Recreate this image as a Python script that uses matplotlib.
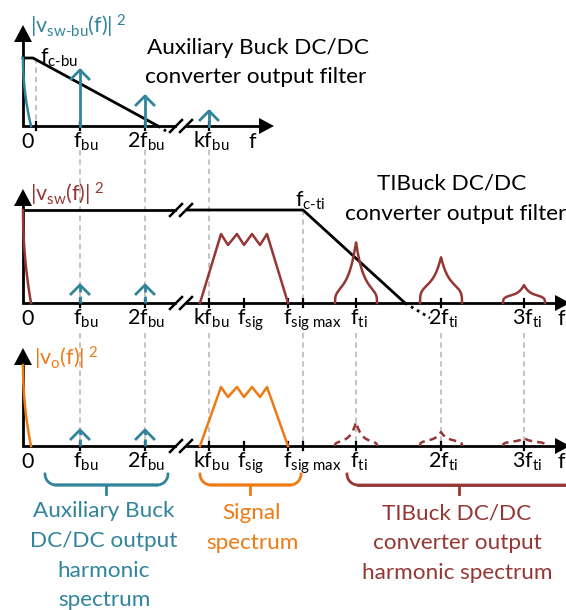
import numpy as np
import matplotlib.pyplot as plt

plt.rcParams["font.family"] = ["Lato", "DejaVu Sans"]
plt.rcParams["mathtext.fontset"] = "custom"
plt.rcParams["mathtext.rm"] = "Lato"
plt.rcParams["mathtext.it"] = "Lato:italic"
plt.rcParams["mathtext.bf"] = "Lato:bold"

TEAL = "#31849B"
RED = "#953735"
ORANGE = "#EE7A14"
GREY = "#BFBFBF"

# drawing units are pixels of the 566 x 610 picture
x_zero = 23
x_fcbu = 36
x_bu = [80, 145, 209]          # f_bu, 2f_bu, kf_bu
x_sig = 244
x_sigmax = 288
x_cti = 303
x_ti = [356, 441, 524]         # f_ti, 2f_ti, 3f_ti
x_break = 181

axis_y = [126, 303, 446]
axis_top = [25, 189, 348]
axis_end = [274, 570, 570]

# spectra (heights above each axis)
dc_height = [68, 93, 81]
bu_height_p1 = [56, 30, 15]
bu_height_p2 = [18, 18]
bu_height_p3 = [16, 16]
ti_height_p2 = [61, 46, 18]
ti_shoulder_p2 = [10, 14, 7]
ti_height_p3 = [24, 14, 8]
ti_shoulder_p3 = [4, 5, 4]

signal_x = [200, 221, 228, 237, 244, 252, 260, 267, 288]
signal_p2 = [0, 69, 58, 69, 58, 69, 58, 69, 0]
signal_p3 = [0, 59, 49, 59, 49, 59, 49, 59, 0]

# filter responses: corner point and zero crossing
filter_bu = [(x_zero, 58), (33, 58), (158, 126), (166, 131)]
filter_ti = [(x_zero, 210), (x_cti, 210), (405, 303), (430, 318)]

fig = plt.figure(figsize=(5.66, 6.10), dpi=100)
ax = fig.add_axes([0, 0, 1, 1])
ax.set_xlim(0, 566)
ax.set_ylim(610, 0)
ax.axis("off")

LW = 2.0
FS = 15.5     # axis labels
FT = 16.2     # titles and captions


def f_lab(base, sub):
    return r"$\mathrm{%s}_{\text{%s}}$" % (base, sub)


def draw_axes(i):
    y0 = axis_y[i]
    ax.plot([x_zero, x_zero], [y0, axis_top[i] + 12], color="k", lw=LW, solid_capstyle="butt")
    ax.fill([x_zero - 9, x_zero + 9, x_zero], [axis_top[i] + 17, axis_top[i] + 17, axis_top[i]],
            color="k", lw=0)
    ax.plot([x_zero, x_break - 6], [y0, y0], color="k", lw=LW)
    ax.plot([x_break + 6, axis_end[i] - 10], [y0, y0], color="k", lw=LW)
    ax.fill([axis_end[i] - 15, axis_end[i] - 15, axis_end[i]], [y0 - 8, y0 + 8, y0],
            color="k", lw=0)
    draw_break(y0)


def draw_break(y0):
    for dx in (-5, 5):
        ax.plot([x_break + dx - 6, x_break + dx + 6], [y0 + 6, y0 - 6], color="k", lw=1.8)


def ticks(xs, y0):
    for x in xs:
        ax.plot([x, x], [y0 - 4, y0 + 4], color="k", lw=1.6)


def vline(x, y1, y2):
    ax.plot([x, x], [y1, y2], color=GREY, lw=1.3, ls=(0, (3, 2.2)), zorder=0)


def dc_curve(i, color):
    t = np.linspace(0, 1, 40)
    y = axis_y[i] - dc_height[i] * (1 - t)
    x = x_zero + 8 * t ** 2
    ax.plot(x, y, color=color, lw=1.8, zorder=3)


def chevron(x, y0, h, dashed=False):
    ax.plot([x, x], [y0, y0 - h], color=TEAL, lw=2.0,
            ls=(0, (2.5, 1.5)) if dashed else "-", zorder=3)
    ax.plot([x - 9, x, x + 9], [y0 - h + 9, y0 - h, y0 - h + 9], color=TEAL, lw=2.0, zorder=3)


def bump(x, y0, h, p, dashed=False):
    dx = np.linspace(-21, 21, 300)
    w = 7.5 if h > 30 else 5.5
    core = p + (h - p) * np.exp(-np.abs(dx) / w)
    env = np.clip(1 - (np.abs(dx) / 21) ** 4, 0, 1) ** 0.3
    ax.plot(x + dx, y0 - core * env, color=RED, lw=1.8,
            ls=(0, (3, 2)) if dashed else "-", zorder=3)


def xlabels(i, extra):
    yb = axis_y[i] + 22
    labels = [(28, "0"), (86, f_lab("f", "bu")), (146, f_lab("2f", "bu")),
              (211, f_lab("kf", "bu"))] + extra
    for x, s in labels:
        ax.text(x, yb, s, fontsize=FS, ha="center", va="baseline")


def brace(x1, x2, xm, y_top, color):
    y_bot = y_top + 13
    t = np.linspace(0, np.pi / 2, 20)
    r = 11
    xl = x1 + r - r * np.cos(t)
    yl = y_top + r * np.sin(t)
    ax.plot(np.r_[xl, x2 - r], np.r_[yl, y_bot - 2], color=color, lw=2.0)
    xr = x2 - r + r * np.cos(t)
    ax.plot(np.r_[x1 + r, xr[::-1]], np.r_[y_bot - 2, yl[::-1]], color=color, lw=2.0)
    ax.plot([xm, xm], [y_bot - 2, y_bot + 7], color=color, lw=2.0)


# grey guide lines
vline(x_fcbu, 58, axis_y[0])
for x in x_bu:
    vline(x, 150, axis_y[1])
    vline(x, 333, axis_y[2])
vline(x_cti, 210, axis_y[1])
vline(x_cti, 333, axis_y[2])
for x in x_ti:
    vline(x, 333, axis_y[2])

# ---------- panel 1 ----------
draw_axes(0)
ticks([x_fcbu] + x_bu, axis_y[0])
fx, fy = zip(*filter_bu)
ax.plot(fx[:3], fy[:3], color="k", lw=LW)
ax.plot(fx[2:], fy[2:], color="k", lw=LW, ls=(0, (1, 1.5)))
dc_curve(0, TEAL)
for x, h in zip(x_bu, bu_height_p1):
    chevron(x, axis_y[0], h)
xlabels(0, [(252, "f")])
ax.text(30, 33, r"$\mathrm{|v}_{\text{sw-bu}}\mathrm{(f)|}^{\ 2}$", color=TEAL, fontsize=FS,
        ha="left", va="baseline")
ax.text(40, 64, f_lab("f", "c-bu"), fontsize=FS, ha="left", va="baseline")
ax.text(258, 54, "Auxiliary Buck DC/DC", fontsize=FT, ha="center", va="baseline")
ax.text(256, 83, "converter output filter", fontsize=FT, ha="center", va="baseline")

# ---------- panel 2 ----------
draw_axes(1)
ticks(x_bu + [x_sig, x_sigmax, x_cti] + x_ti, axis_y[1])
fx, fy = zip(*filter_ti)
ax.plot([fx[0], x_break - 6], [fy[0], fy[0]], color="k", lw=LW)
ax.plot([x_break + 6] + list(fx[1:3]), [fy[0]] + list(fy[1:3]), color="k", lw=LW)
ax.plot(fx[2:], fy[2:], color="k", lw=LW, ls=(0, (1, 1.5)))
draw_break(fy[0])
dc_curve(1, RED)
for x, h in zip(x_bu[:2], bu_height_p2):
    chevron(x, axis_y[1], h, dashed=True)
ax.plot(signal_x, [axis_y[1] - v for v in signal_p2], color=RED, lw=1.8, zorder=3)
for x, h, p in zip(x_ti, ti_height_p2, ti_shoulder_p2):
    bump(x, axis_y[1], h, p)
mid_labels = [(251, f_lab("f", "sig")), (312, f_lab("f", "sig max")),
              (359, f_lab("f", "ti")), (443, f_lab("2f", "ti")), (527, f_lab("3f", "ti")),
              (561, "f")]
xlabels(1, mid_labels)
ax.text(30, 202, r"$\mathrm{|v}_{\text{sw}}\mathrm{(f)|}^{\ 2}$", color=RED, fontsize=FS,
        ha="left", va="baseline")
ax.text(295, 207, f_lab("f", "c-ti"), fontsize=FS, ha="left", va="baseline")
ax.text(452, 190, "TIBuck DC/DC", fontsize=FT, ha="center", va="baseline")
ax.text(456, 220, "converter output filter", fontsize=FT, ha="center", va="baseline")

# ---------- panel 3 ----------
draw_axes(2)
ticks(x_bu + [x_sig, x_sigmax, x_cti] + x_ti, axis_y[2])
dc_curve(2, ORANGE)
for x, h in zip(x_bu[:2], bu_height_p3):
    chevron(x, axis_y[2], h, dashed=True)
ax.plot(signal_x, [axis_y[2] - v for v in signal_p3], color=ORANGE, lw=1.8, zorder=3)
for x, h, p in zip(x_ti, ti_height_p3, ti_shoulder_p3):
    bump(x, axis_y[2], h, p, dashed=True)
xlabels(2, mid_labels)
ax.text(34, 365, r"$\mathrm{|v}_{\text{o}}\mathrm{(f)|}^{\ 2}$", color=ORANGE, fontsize=FS,
        ha="left", va="baseline")

# ---------- braces and captions ----------
brace(45, 168, 106, 474, TEAL)
brace(200, 301, 250, 474, ORANGE)
brace(347, 578, 459, 474, RED)

for y, s in zip([517, 547, 577, 606], ["Auxiliary Buck", "DC/DC output", "harmonic", "spectrum"]):
    ax.text(104, y, s, color=TEAL, fontsize=FT, ha="center", va="baseline")
for y, s in zip([519, 549], ["Signal", "spectrum"]):
    ax.text(252, y, s, color=ORANGE, fontsize=FT, ha="center", va="baseline")
for y, s in zip([519, 549, 579], ["TIBuck DC/DC", "converter output", "harmonic spectrum"]):
    ax.text(457, y, s, color=RED, fontsize=FT, ha="center", va="baseline")

fig.savefig("out.png", dpi=100)
